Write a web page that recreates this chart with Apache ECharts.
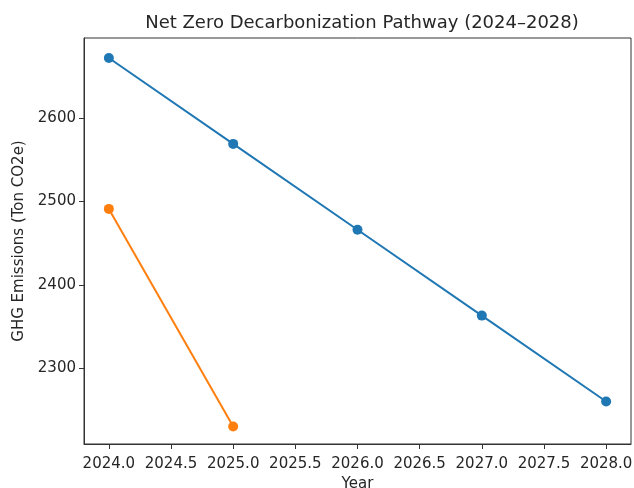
<!DOCTYPE html>
<html>
<head>
<meta charset="utf-8">
<script src="https://cdn.jsdelivr.net/npm/echarts@6/dist/echarts.min.js"></script>
<style>
  html, body { margin: 0; padding: 0; background: #fff; }
  #chart { width: 634px; height: 488px; }
</style>
</head>
<body>
<div id="chart"></div>
<script>
// data
const years = [2024, 2025, 2026, 2027, 2028]
const pathwayValues = [2672, 2569, 2466, 2363, 2260]
const actualYears = [2024, 2025]
const actualValues = [2491, 2230]
const xTicks = [2024, 2024.5, 2025, 2025.5, 2026, 2026.5, 2027, 2027.5, 2028]
const yTicks = [2300, 2400, 2500, 2600]

const font = 'DejaVu Sans'
const textColor = '#262626'

const chart = echarts.init(document.getElementById('chart'))

const option = {
  backgroundColor: '#fff',
  animation: false,
  title: {
    text: 'Net Zero Decarbonization Pathway (2024\u20132028)',
    left: 357,
    top: 9,
    textAlign: 'center',
    textStyle: { fontFamily: font, fontSize: 18, fontWeight: 'normal', color: textColor }
  },
  grid: {
    left: 84,
    right: 3,
    top: 38,
    bottom: 44,
    outerBoundsMode: 'none',
    show: true,
    borderColor: '#333',
    borderWidth: 1
  },
  xAxis: {
    type: 'value',
    min: 2023.8,
    max: 2028.2,
    name: 'Year',
    nameLocation: 'middle',
    nameGap: 33,
    nameTextStyle: { fontFamily: font, fontSize: 15, color: textColor },
    axisLine: { show: true, lineStyle: { color: '#333' } },
    axisTick: { show: true, customValues: xTicks, length: 5, lineStyle: { color: '#333' } },
    axisLabel: {
      customValues: xTicks,
      formatter: v => v.toFixed(1),
      fontFamily: font,
      fontSize: 15,
      color: textColor,
      margin: 13
    },
    splitLine: { show: false }
  },
  yAxis: {
    type: 'value',
    min: 2209,
    max: 2696,
    name: 'GHG Emissions (Ton CO2e)',
    nameLocation: 'middle',
    nameGap: 57,
    nameTextStyle: { fontFamily: font, fontSize: 15, color: textColor },
    axisLine: { show: true, lineStyle: { color: '#333' } },
    axisTick: { show: true, customValues: yTicks, length: 5, lineStyle: { color: '#333' } },
    axisLabel: {
      customValues: yTicks,
      formatter: v => String(v),
      fontFamily: font,
      fontSize: 15,
      color: textColor,
      margin: 8
    },
    splitLine: { show: false }
  },
  series: [
    {
      name: 'Pathway',
      type: 'line',
      data: years.map((y, i) => [y, pathwayValues[i]]),
      symbol: 'circle',
      symbolSize: 10,
      lineStyle: { color: '#1f77b4', width: 2 },
      itemStyle: { color: '#1f77b4' }
    },
    {
      name: 'Actual',
      type: 'line',
      data: actualYears.map((y, i) => [y, actualValues[i]]),
      symbol: 'circle',
      symbolSize: 10,
      lineStyle: { color: '#ff7f0e', width: 2 },
      itemStyle: { color: '#ff7f0e' }
    }
  ]
}

chart.setOption(option)
</script>
</body>
</html>
